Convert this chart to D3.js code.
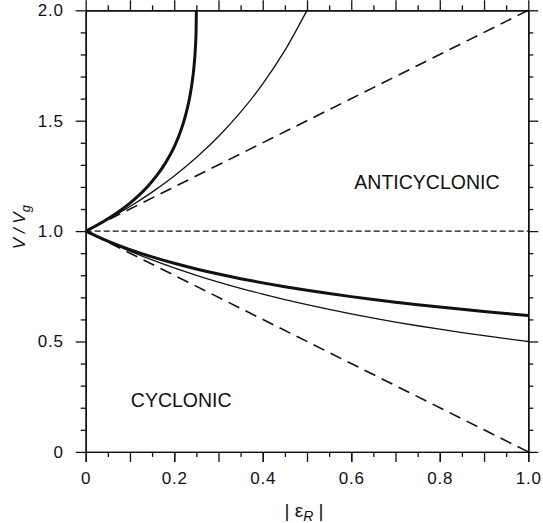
<!DOCTYPE html>
<html>
<head>
<meta charset="utf-8">
<script src="https://cdn.jsdelivr.net/npm/d3@7"></script>
<style>
  html, body { margin: 0; padding: 0; background: #fff; }
  svg { display: block; }
  text { font-family: "Liberation Sans", Arial, Helvetica, sans-serif; fill: #111; }
</style>
</head>
<body>
<svg id="chart" width="543" height="523"></svg>
<script>
// Normalized Rossby number |eps_R| and speed ratio V/Vg

// Gradient wind, cyclonic branch (thick, lower)
const epsCyc = [0, 0.05, 0.1, 0.15, 0.2, 0.25, 0.3, 0.35, 0.4, 0.45, 0.5,
                0.55, 0.6, 0.65, 0.7, 0.75, 0.8, 0.85, 0.9, 0.95, 1.0];
const vGradCyc = [1, 0.9545, 0.9161, 0.8830, 0.8541, 0.8284, 0.8054, 0.7846, 0.7656, 0.7481, 0.7321,
                  0.7171, 0.7033, 0.6903, 0.6781, 0.6667, 0.6559, 0.6457, 0.6360, 0.6268, 0.6180];
// Approximate cyclonic solution (thin, lower)
const vApproxCyc = [1, 0.9524, 0.9091, 0.8696, 0.8333, 0.8, 0.7692, 0.7407, 0.7143, 0.6897, 0.6667,
                    0.6452, 0.625, 0.6061, 0.5882, 0.5714, 0.5556, 0.5405, 0.5263, 0.5128, 0.5];

// Gradient wind, anticyclonic branch (thick, upper)
const epsGradAnti = [0, 0.02, 0.04, 0.06, 0.08, 0.10, 0.12, 0.14, 0.16, 0.18, 0.20,
                     0.21, 0.22, 0.23, 0.235, 0.24, 0.245, 0.248, 0.2495, 0.25];
const vGradAnti = [1, 1.0208, 1.0435, 1.0685, 1.0961, 1.127, 1.162, 1.2024, 1.25, 1.3079, 1.382,
                   1.4286, 1.4854, 1.559, 1.6065, 1.6667, 1.7522, 1.8358, 1.9144, 2.0];

// Approximate anticyclonic solution (thin, upper)
const epsApproxAnti = [0, 0.05, 0.1, 0.15, 0.2, 0.25, 0.3, 0.35, 0.4, 0.45, 0.5];
const vApproxAnti = [1, 1.0526, 1.1111, 1.1765, 1.25, 1.3333, 1.4286, 1.5385, 1.6667, 1.8182, 2.0];

// Straight reference lines (dashed)
const epsLine = [1, 0];
const vLineAnti = [2, 1];
const vLineCyc = [0, 1];
const epsGeo = [0, 1];
const vGeo = [1, 1];

// Tick values and labels
const xMajorTicks = [0, 0.1, 0.2, 0.3, 0.4, 0.5, 0.6, 0.7, 0.8, 0.9, 1.0];
const xMinorTicks = [0.05, 0.15, 0.25, 0.35, 0.45, 0.55, 0.65, 0.75, 0.85, 0.95];
const xLabelTicks = [0, 0.2, 0.4, 0.6, 0.8, 1.0];
const xTickLabels = ["0", "0.2", "0.4", "0.6", "0.8", "1.0"];
const yMajorTicks = [0, 0.5, 1.0, 1.5, 2.0];
const yTickLabels = ["0", "0.5", "1.0", "1.5", "2.0"];
const yMinorTicks = [0.1, 0.2, 0.3, 0.4, 0.6, 0.7, 0.8, 0.9, 1.1, 1.2, 1.3, 1.4, 1.6, 1.7, 1.8, 1.9];
const regionLabels = ["ANTICYCLONIC", "CYCLONIC"];

const svg = d3.select("#chart");
const plotLeft = 85.7, plotRight = 528.3, plotTop = 10.3, plotBottom = 451.9;

const x = d3.scaleLinear().domain([0, 1]).range([plotLeft, plotRight]);
const y = d3.scaleLinear().domain([0, 2]).range([plotBottom, plotTop]);

const ink = "#111";

svg.append("defs").append("clipPath").attr("id", "plotClip")
  .append("rect").attr("x", plotLeft).attr("y", plotTop - 1)
  .attr("width", plotRight - plotLeft + 1).attr("height", plotBottom - plotTop + 2);

const plot = svg.append("g").attr("clip-path", "url(#plotClip)");

const pts = (xs, ys) => xs.map((d, i) => [d, ys[i]]);
const curve = d3.line().x(d => x(d[0])).y(d => y(d[1])).curve(d3.curveMonotoneX);
const straight = d3.line().x(d => x(d[0])).y(d => y(d[1]));

// dashed straight lines
plot.append("path").attr("d", straight(pts(epsLine, vLineAnti)))
  .attr("fill", "none").attr("stroke", ink).attr("stroke-width", 1.6).attr("stroke-dasharray", "12,7");
plot.append("path").attr("d", straight(pts(epsLine, vLineCyc)))
  .attr("fill", "none").attr("stroke", ink).attr("stroke-width", 1.6).attr("stroke-dasharray", "12,7");
plot.append("path").attr("d", straight(pts(epsGeo, vGeo)))
  .attr("fill", "none").attr("stroke", ink).attr("stroke-width", 1.4).attr("stroke-dasharray", "6,3");

// thin curves
plot.append("path").attr("d", curve(pts(epsApproxAnti, vApproxAnti)))
  .attr("fill", "none").attr("stroke", ink).attr("stroke-width", 1.3);
plot.append("path").attr("d", curve(pts(epsCyc, vApproxCyc)))
  .attr("fill", "none").attr("stroke", ink).attr("stroke-width", 1.3);

// thick curves
plot.append("path").attr("d", curve(pts(epsGradAnti, vGradAnti)))
  .attr("fill", "none").attr("stroke", ink).attr("stroke-width", 3);
plot.append("path").attr("d", curve(pts(epsCyc, vGradCyc)))
  .attr("fill", "none").attr("stroke", ink).attr("stroke-width", 3);

// axes
function styleAxis(g) {
  g.select(".domain").attr("stroke", ink).attr("stroke-width", 1.4);
  g.selectAll(".tick line").attr("stroke", ink).attr("stroke-width", 1.3);
  g.selectAll(".tick text").attr("fill", ink)
    .style("font-size", "17px").style("letter-spacing", "0.8px")
    .style("font-family", "'Liberation Sans', Arial, sans-serif");
}

// bottom
svg.append("g").attr("transform", `translate(0,${plotBottom})`)
  .call(d3.axisBottom(x).tickValues(xMajorTicks).tickSize(10).tickSizeOuter(0).tickFormat(""))
  .call(styleAxis);
svg.append("g").attr("transform", `translate(0,${plotBottom})`)
  .call(d3.axisBottom(x).tickValues(xMinorTicks).tickSize(5).tickSizeOuter(0).tickFormat(""))
  .call(styleAxis);
svg.append("g").attr("transform", `translate(0,${plotBottom})`)
  .call(d3.axisBottom(x).tickValues(xLabelTicks).tickSize(10).tickPadding(10)
    .tickFormat((d, i) => xTickLabels[i]))
  .call(styleAxis)
  .call(g => g.select(".domain").remove());

// top
svg.append("g").attr("transform", `translate(0,${plotTop})`)
  .call(d3.axisTop(x).tickValues(xMajorTicks).tickSize(10).tickSizeOuter(0).tickFormat(""))
  .call(styleAxis);
svg.append("g").attr("transform", `translate(0,${plotTop})`)
  .call(d3.axisTop(x).tickValues(xMinorTicks).tickSize(5).tickSizeOuter(0).tickFormat(""))
  .call(styleAxis);

// left
svg.append("g").attr("transform", `translate(${plotLeft},0)`)
  .call(d3.axisLeft(y).tickValues(yMajorTicks).tickSize(10).tickSizeOuter(0).tickPadding(12)
    .tickFormat((d, i) => yTickLabels[i]))
  .call(styleAxis);
svg.append("g").attr("transform", `translate(${plotLeft},0)`)
  .call(d3.axisLeft(y).tickValues(yMinorTicks).tickSize(5).tickSizeOuter(0).tickFormat(""))
  .call(styleAxis);

// right
svg.append("g").attr("transform", `translate(${plotRight},0)`)
  .call(d3.axisRight(y).tickValues(yMajorTicks).tickSize(10).tickSizeOuter(0).tickFormat(""))
  .call(styleAxis);
svg.append("g").attr("transform", `translate(${plotRight},0)`)
  .call(d3.axisRight(y).tickValues(yMinorTicks).tickSize(5).tickSizeOuter(0).tickFormat(""))
  .call(styleAxis);

// region labels
svg.append("text").attr("x", x(0.607)).attr("y", y(1.19))
  .style("font-size", "19.5px").text(regionLabels[0]);
svg.append("text").attr("x", x(0.102)).attr("y", y(0.205))
  .style("font-size", "19.5px").text(regionLabels[1]);

// y axis title: V / V_g
const yt = svg.append("text")
  .attr("transform", `translate(25,${(plotTop + plotBottom) / 2 - 4}) rotate(-90)`)
  .attr("text-anchor", "middle")
  .style("font-size", "17px").style("font-style", "italic");
yt.append("tspan").text("V / V");
yt.append("tspan").attr("dy", 5).style("font-size", "13px").text("g");

// x axis title: |eps_R|
const xt = svg.append("text")
  .attr("x", (plotLeft + plotRight) / 2 - 3).attr("y", 517)
  .attr("text-anchor", "middle")
  .style("font-size", "19px");
xt.append("tspan").text("| ε");
xt.append("tspan").attr("dy", 4).style("font-size", "14px").style("font-style", "italic").text("R");
xt.append("tspan").attr("dy", -4).text(" |");
</script>
</body>
</html>
